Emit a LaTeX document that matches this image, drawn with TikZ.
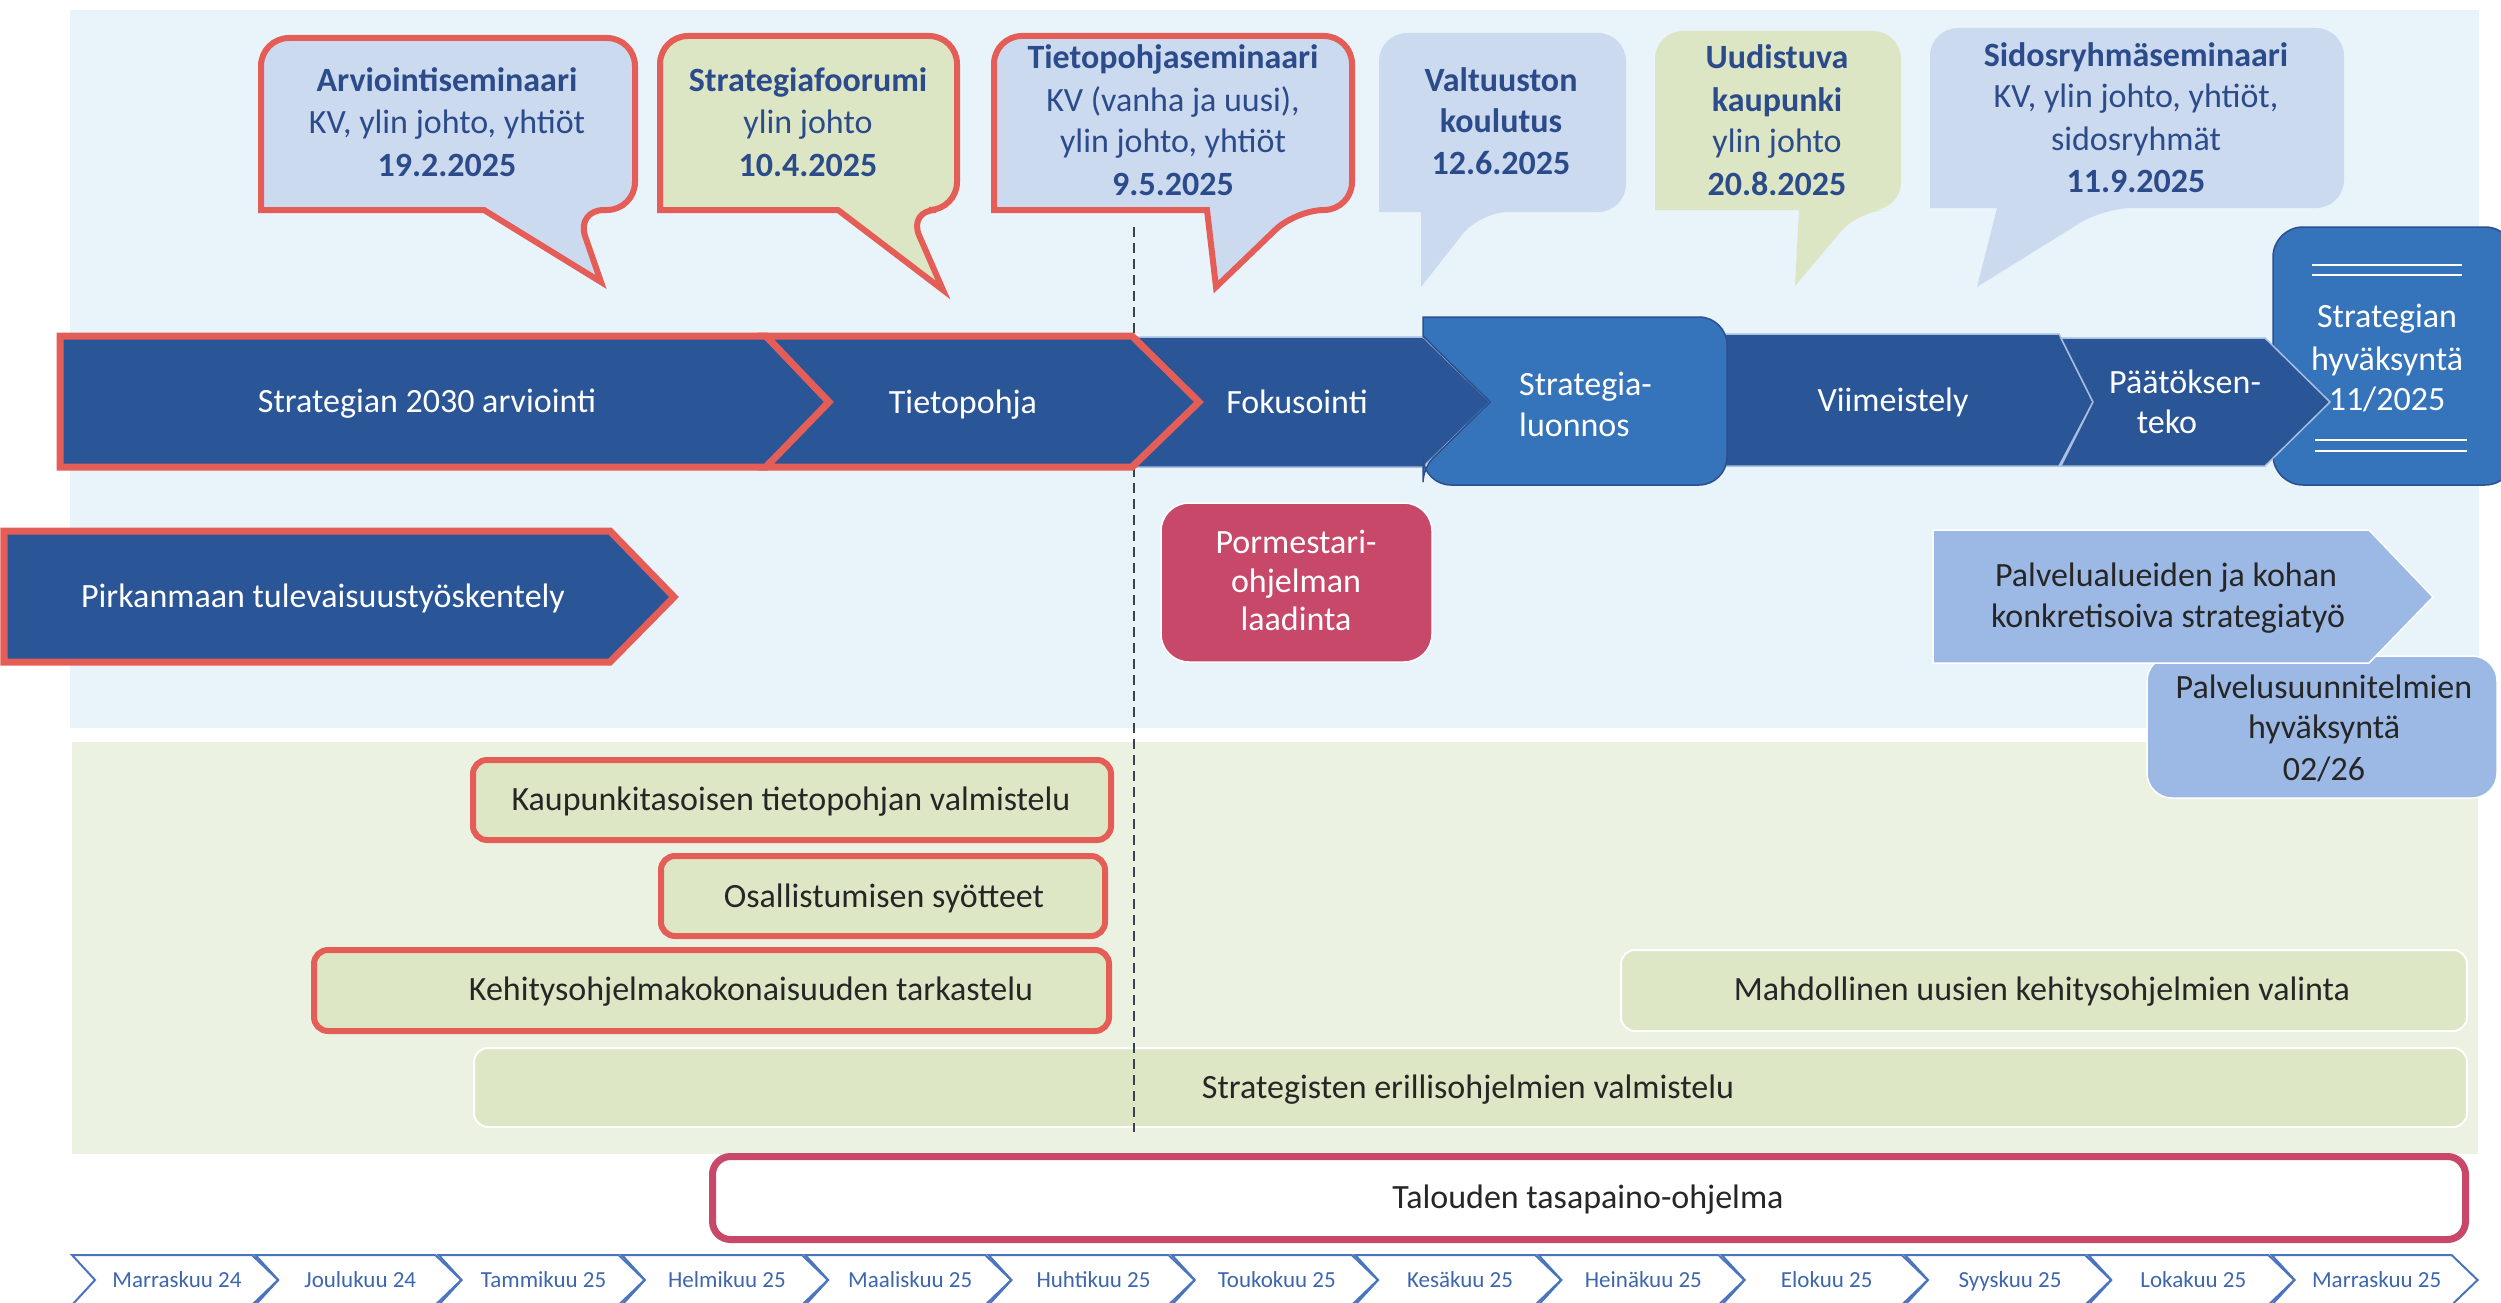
\documentclass[tikz,border=0pt]{standalone}
\usepackage{fontspec}
\setmainfont{Carlito}
\definecolor{panelblue}{HTML}{E8F3FA}
\definecolor{panelgreen}{HTML}{EBF2E1}
\definecolor{barblue}{HTML}{2A5597}
\definecolor{midblue}{HTML}{3573BA}
\definecolor{midline}{HTML}{2A5090}
\definecolor{chevline}{HTML}{A9BEDF}
\definecolor{redline}{HTML}{E55D57}
\definecolor{calloutblue}{HTML}{CCDAF0}
\definecolor{calloutgreen}{HTML}{DDE6C4}
\definecolor{calltext}{HTML}{2B4B8A}
\definecolor{crimson}{HTML}{C8486A}
\definecolor{peri}{HTML}{9CB8E4}
\definecolor{barfill}{HTML}{DDE7C6}
\definecolor{monthline}{HTML}{4A74BE}
\definecolor{monthtext}{HTML}{3D66AE}
\definecolor{darktext}{HTML}{262626}
\definecolor{dashcol}{HTML}{3A4250}
\tikzset{
  txt/.style={anchor=base, inner sep=0pt, font=\fontsize{34}{42}\selectfont},
  wtxt/.style={txt, text=white},
  ctxt/.style={txt, text=calltext},
  btxt/.style={txt, text=calltext, font=\fontsize{34}{42}\selectfont\bfseries},
  dtxt/.style={txt, text=darktext},
  mtxt/.style={anchor=base, inner sep=0pt, font=\fontsize{23}{28}\selectfont, text=monthtext},
  redcall/.style={draw=redline, line width=6pt},
  redbox/.style={draw=redline, line width=6pt, fill=barfill, rounded corners=14pt},
  plainbox/.style={draw=white, line width=2pt, fill=barfill, rounded corners=14pt},
  darkchev/.style={fill=barblue, draw=chevline, line width=1.5pt},
  redchev/.style={fill=barblue, draw=redline, line width=7pt},
  mchev/.style={fill=white, draw=monthline, line width=2pt},
}
\begin{document}
\begin{tikzpicture}[x=1pt,y=-1pt]
\useasboundingbox (0,0) rectangle (2501,1303);
\clip (0,0) rectangle (2501,1303);

% panels
\fill[panelblue] (70,10) rectangle (2479,728);
\fill[panelgreen] (72,742) rectangle (2478,1154);

% green panel bars
\path[redbox] (473,760) rectangle (1111,840);
\node[dtxt] (kaup) at (791,810) {Kaupunkitasoisen tietopohjan valmistelu};
\path[redbox] (661,856) rectangle (1105,936);
\node[dtxt] (osal) at (884,907) {Osallistumisen syötteet};
\path[redbox] (314,950) rectangle (1109,1031);
\node[dtxt] (kehi) at (751,1000) {Kehitysohjelmakokonaisuuden tarkastelu};
\path[plainbox] (1621,950) rectangle (2467,1031);
\node[dtxt] (mahd) at (2042,1000) {Mahdollinen uusien kehitysohjelmien valinta};
\path[plainbox] (474,1048) rectangle (2467,1127);
\node[dtxt] (stra) at (1468,1098) {Strategisten erillisohjelmien valmistelu};
\path[draw=crimson, line width=7pt, fill=white, rounded corners=18pt] (712.5,1156.5) rectangle (2465.5,1239.5);
\node[dtxt] (talo) at (1588,1208) {Talouden tasapaino-ohjelma};

% dashed line
\coordinate (dtop) at (1134,227);
\coordinate (dbot) at (1134,1132);
\draw[dashcol, line width=1.8pt, dash pattern=on 10pt off 6pt] (dtop) -- (dbot);

% callouts
\path[fill=calloutblue, redcall] (261,120) [rounded corners=28pt] -- (261,38) -- (635,38) -- (635,210) -- (576,210) [sharp corners] -- (601,282) -- (484,210) -- (261,210) [rounded corners=28pt] -- cycle;
\node[btxt] (c1a) at (447,92) {Arviointiseminaari};
\node[ctxt] (c1b) at (447,134) {KV, ylin johto, yhtiöt};
\node[btxt] (c1c) at (447,176) {19.2.2025};

\path[fill=calloutgreen, redcall] (660,120) [rounded corners=28pt] -- (660,36) -- (957,36) -- (957,210) -- (908,210) [sharp corners] -- (943,290) -- (838,210) -- (660,210) [rounded corners=28pt] -- cycle;
\node[btxt] (c2a) at (808,92) {Strategiafoorumi};
\node[ctxt] (c2b) at (808,134) {ylin johto};
\node[btxt] (c2c) at (808,176) {10.4.2025};

\path[fill=calloutblue, redcall] (994,120) [rounded corners=28pt] -- (994,36) -- (1352,36) -- (1352,210) -- (1296,210) [sharp corners] -- (1216,287) -- (1207,210) -- (994,210) [rounded corners=28pt] -- cycle;
\node[btxt] (c3a) at (1173,69) {Tietopohjaseminaari};
\node[ctxt] (c3b) at (1173,112) {KV (vanha ja uusi),};
\node[ctxt] (c3c) at (1173,153) {ylin johto, yhtiöt};
\node[btxt] (c3d) at (1173,195) {9.5.2025};

\path[fill=calloutblue] (1379,120) [rounded corners=28pt] -- (1379,33) -- (1626,33) -- (1626,212) -- (1480,212) [sharp corners] -- (1421,287) -- (1421,212) -- (1379,212) [rounded corners=28pt] -- cycle;
\node[btxt] (c4a) at (1501,92) {Valtuuston};
\node[btxt] (c4b) at (1501,133) {koulutus};
\node[btxt] (c4c) at (1501,175) {12.6.2025};

\path[fill=calloutgreen] (1655,120) [rounded corners=28pt] -- (1655,31) -- (1901,31) -- (1901,210) -- (1859,210) [sharp corners] -- (1795,286) -- (1799,210) -- (1655,210) [rounded corners=28pt] -- cycle;
\node[btxt] (c5a) at (1777,69) {Uudistuva};
\node[btxt] (c5b) at (1777,112) {kaupunki};
\node[ctxt] (c5c) at (1777,153) {ylin johto};
\node[btxt] (c5d) at (1777,195) {20.8.2025};

\path[fill=calloutblue] (1930,120) [rounded corners=28pt] -- (1930,28) -- (2344,28) -- (2344,208) -- (2104,208) [sharp corners] -- (1977,287) -- (1997,208) -- (1930,208) [rounded corners=28pt] -- cycle;
\node[btxt] (c6a) at (2136,67) {Sidosryhmäseminaari};
\node[ctxt] (c6b) at (2136,108) {KV, ylin johto, yhtiöt,};
\node[ctxt] (c6c) at (2136,150) {sidosryhmät};
\node[btxt] (c6d) at (2136,192) {11.9.2025};

% main process bar
\path[darkchev] (1132,337) -- (1423,337) -- (1490,402) -- (1423,467) -- (1132,467) -- (1199,402) -- cycle;
\path[darkchev] (1700,334) -- (2059,334) -- (2093,402) -- (2059,466) -- (1700,466) -- cycle;
\path[fill=midblue, draw=midline, line width=1.5pt, rounded corners=30pt] (2273,227) rectangle (2515,485);
\path[darkchev] (2061,338) -- (2265,338) -- (2330,402) -- (2265,466) -- (2061,466) -- (2093,402) -- cycle;
\path[fill=midblue, draw=midline, line width=1.5pt] (1575,317) [rounded corners=28pt] -- (1727,317) -- (1727,485) -- (1423,485) [rounded corners=14pt] -- (1423,468) [sharp corners] -- (1490,402) -- (1423,336) -- (1423,317) [rounded corners=14pt] -- cycle;
\path[redchev] (60,336) -- (766,336) -- (829,402) -- (766,467) -- (60,467) -- cycle;
\path[redchev] (766,336) -- (1132,336) -- (1199,402) -- (1132,467) -- (766,467) -- (829,402) -- cycle;

\node[wtxt] (arvi) at (427,412) {Strategian 2030 arviointi};
\node[wtxt] (tiet) at (963,413) {Tietopohja};
\node[wtxt] (foku) at (1297,413) {Fokusointi};
\node[wtxt, anchor=base west] (luo1) at (1519,395) {Strategia-};
\node[wtxt, anchor=base west] (luo2) at (1519,436) {luonnos};
\node[wtxt] (viim) at (1893,411) {Viimeistely};
\node[wtxt] (paa1) at (2185,393) {Päätöksen-};
\node[wtxt] (paa2) at (2167,433) {teko};
\node[wtxt] (hyv1) at (2387,327) {Strategian};
\node[wtxt] (hyv2) at (2387,370) {hyväksyntä};
\node[wtxt] (hyv3) at (2387,410) {11/2025};
\draw[white, line width=2pt] (2312,265) -- (2462,265) (2312,275) -- (2462,275)
  (2315,440) -- (2467,440) (2315,451) -- (2467,451);

% second row
\path[redchev] (4,531) -- (610,531) -- (674,597) -- (610,662) -- (4,662) -- cycle;
\node[wtxt] (pirk) at (323,607) {Pirkanmaan tulevaisuustyöskentely};

\path[fill=crimson, draw=white, line width=1.5pt, rounded corners=28pt] (1161,503) rectangle (1432,662);
\node[wtxt] (por1) at (1296,553) {Pormestari-};
\node[wtxt] (por2) at (1296,592) {ohjelman};
\node[wtxt] (por3) at (1296,630) {laadinta};

\path[fill=peri, draw=white, line width=1.5pt, rounded corners=25pt] (2147,656) rectangle (2497,798);
\path[fill=peri, draw=white, line width=1.5pt] (1933,530) -- (2369,530) -- (2433,597) -- (2369,663) -- (1933,663) -- cycle;
\node[dtxt] (pal1) at (2166,586) {Palvelualueiden ja kohan};
\node[dtxt] (pal2) at (2168,627) {konkretisoiva strategiatyö};
\node[dtxt] (pas1) at (2324,698) {Palvelusuunnitelmien};
\node[dtxt] (pas2) at (2324,738) {hyväksyntä};
\node[dtxt] (pas3) at (2324,780) {02/26};

% months
\foreach \m [count=\i from 0] in {Marraskuu 24, Joulukuu 24, Tammikuu 25, Helmikuu 25, Maaliskuu 25, Huhtikuu 25, Toukokuu 25, Kesäkuu 25, Heinäkuu 25, Elokuu 25, Syyskuu 25, Lokakuu 25, Marraskuu 25}{
  \pgfmathsetmacro\xx{72+183.3*\i}
  \path[mchev] (\xx,1255) -- ++(180,0) -- ++(26,25) -- ++(-26,25) -- ++(-180,0) -- ++(23,-25) -- cycle;
  \node[mtxt] (month\i) at (\xx+105,1287) {\m};
}
\end{tikzpicture}
\end{document}
